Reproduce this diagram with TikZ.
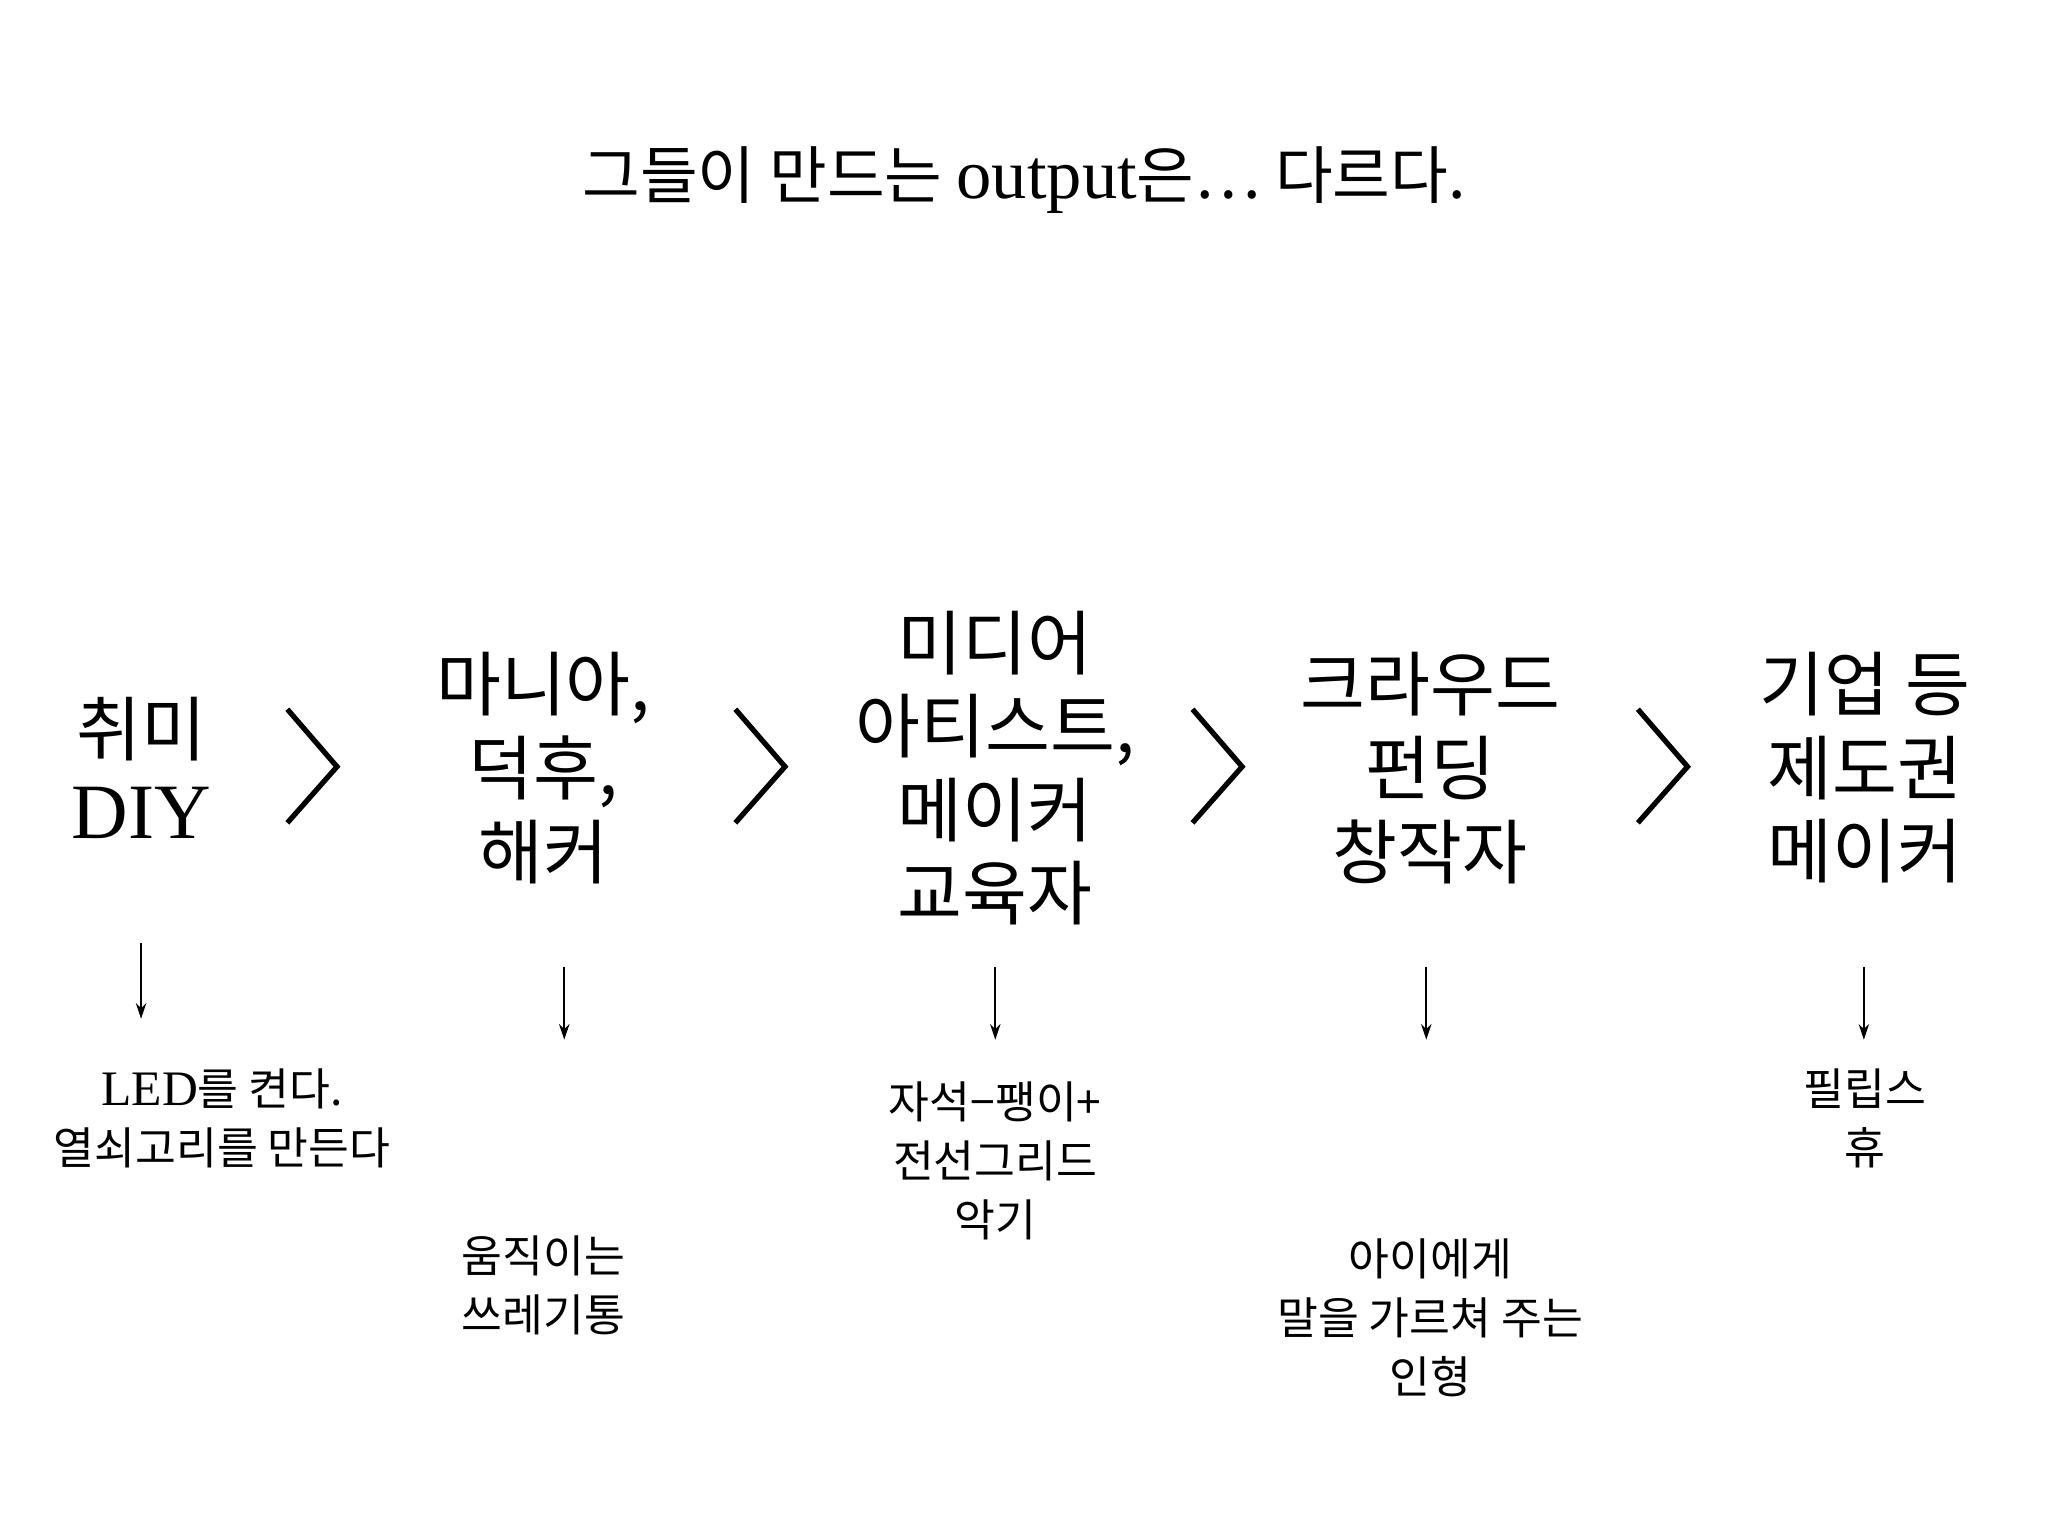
\documentclass[tikz,border=0pt]{standalone}
\usepackage{fontspec}
\setmainfont{Noto Sans CJK KR}
\newfontfamily\lat{Liberation Serif}
\usetikzlibrary{arrows.meta}
\begin{document}
\begin{tikzpicture}[x=0.5pt,y=-0.5pt,
  big/.style={align=center,font=\fontsize{27}{32}\selectfont},
  small/.style={align=center,font=\fontsize{17}{22.5}\selectfont},
  chev/.style={line width=2pt},
  down/.style={-{Stealth[length=6pt,width=4pt]},line width=0.8pt}]
\useasboundingbox (0,0) rectangle (1568,1176);
\node[font=\fontsize{24}{28}\selectfont] (title) at (784,138) {그들이 만드는 {\lat\fontsize{27}{28}\selectfont output}은… 다르다.};
\node[big] (c1) at (108,588) {취미\\{\lat\fontsize{30}{32}\selectfont DIY}};
\node[big] (c2) at (416,588) {마니아,\\덕후,\\해커};
\node[big] (c3) at (762,588) {미디어\\아티스트,\\메이커\\교육자};
\node[big] (c4) at (1095,588) {크라우드\\펀딩\\창작자};
\node[big] (c5) at (1428,588) {기업 등\\제도권\\메이커};
\foreach \x/\n in {220/a,563/b,913/c,1254/d}{
  \coordinate (\n1) at (\x,543); \coordinate (\n2) at (\x+38,587); \coordinate (\n3) at (\x,630);
  \draw[chev] (\n1) -- (\n2) -- (\n3);}
\node[small] (s1) at (170,856) {{\lat\fontsize{19}{22.5}\selectfont LED}를 켠다.\\열쇠고리를 만든다};
\node[small] (s2) at (416,984) {움직이는\\쓰레기통};
\node[small] (s3) at (762,889) {자석−팽이+\\전선그리드\\악기};
\node[small] (s4) at (1095,1009) {아이에게\\말을 가르쳐 주는\\인형};
\node[small] (s5) at (1428,856) {필립스\\휴};
\coordinate (t1) at (108,722); \coordinate (e1) at (108,780);
\coordinate (t2) at (432,740); \coordinate (e2) at (432,796);
\coordinate (t3) at (762,740); \coordinate (e3) at (762,796);
\coordinate (t4) at (1092,740); \coordinate (e4) at (1092,796);
\coordinate (t5) at (1427,740); \coordinate (e5) at (1427,796);
\foreach \i in {1,...,5}{\draw[down] (t\i) -- (e\i);}
\end{tikzpicture}
\end{document}
